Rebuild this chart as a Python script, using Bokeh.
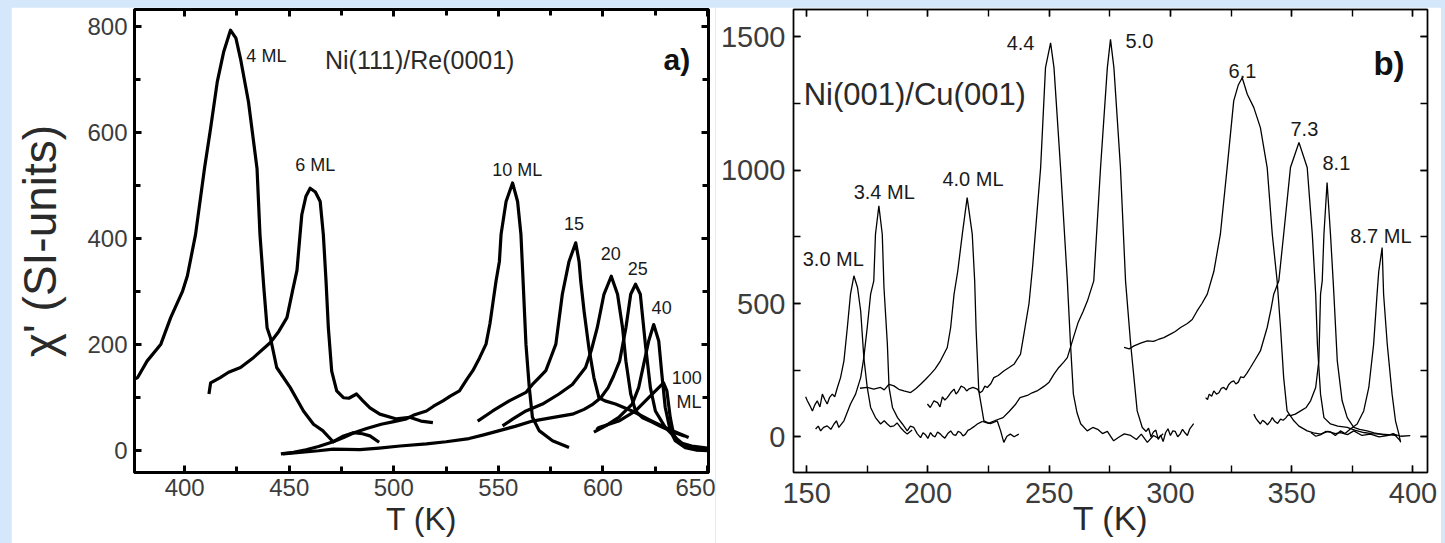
from bokeh.plotting import figure
from bokeh.models import LinearAxis, SingleIntervalTicker, Label, Spacer, ColumnDataSource, CustomJSTickFormatter
from bokeh.layouts import row, column
from bokeh.core.properties import value
from bokeh.embed import file_html
from bokeh.resources import INLINE

BLUE = "#D5E7FB"
FONT = "Liberation Sans"

# ---------------- panel a) Ni(111)/Re(0001) ----------------
a_4ML_T = [376, 377.5, 382, 388.6, 393.3, 398.9, 401.3, 405.2, 409.5, 412.4, 415.6, 418.7, 421.9, 424.5, 426.7, 430.5,
           434.6, 436, 437.8, 439.4, 441, 444, 450.5, 456.8, 461.6, 466, 471, 476, 480.6, 485, 488.6, 493]
a_4ML_chi = [135, 138, 169, 201, 251, 300, 330, 408, 533, 608, 696, 753, 793, 778, 739, 658,
             532, 408, 310, 232, 213, 157, 119, 75, 50, 38, 17, 28, 34, 32, 28, 16]

a_6ML_T = [411.6, 412.4, 417, 421, 426.7, 433, 441, 445, 448.9, 451.5, 453.7, 455, 456, 458, 460, 462.5,
           464.8, 466.3, 467.6, 468.7, 470.3, 472.7, 475.9, 478.5, 482.2, 485, 488.6, 493.3, 501.3, 507.6, 513, 518.7]
a_6ML_chi = [107, 128, 138, 148, 157, 176, 204, 225, 251, 300, 340, 400, 445, 480, 495, 488,
             470, 408, 320, 232, 150, 113, 100, 99, 107, 95, 81, 69, 60, 63, 56, 53]

a_10ML_T = [446, 452, 458, 464, 471, 476, 481, 487, 494, 500, 506, 510, 515.6, 519, 523.5, 527, 531.4, 535, 537.8,
            541, 544.1, 546, 547.3, 548.9, 550.5, 551.3, 553.7, 556.8, 559.2, 560.8, 561.6, 563.2, 564.8, 566.3,
            569.5, 575.9, 583.8]
a_10ML_chi = [-6, -3, 2, 8, 17, 25, 34, 42, 50, 55, 60, 68, 75, 84, 94, 103, 113, 135, 151,
              175, 201, 240, 276, 320, 357, 408, 470, 505, 470, 408, 340, 201, 119, 63,
              38, 19, 6]

a_15ML_T = [540.1, 547.3, 555.2, 563.2, 566.3, 569.5, 572.7, 575, 577.5, 580.6, 583.8, 587, 588.6, 589.4, 591,
            593.3, 595.7, 598.1, 601, 606, 614, 623.5, 633, 641]
a_15ML_chi = [56, 75, 94, 110, 125, 138, 151, 175, 201, 295, 357, 392, 357, 320, 263,
              194, 138, 100, 94, 88, 75, 56, 38, 25]

a_20ML_T = [552, 557, 563.2, 571.1, 579, 585.4, 591.7, 594.5, 597.3, 600.5, 604, 607, 609.4, 611, 613.3, 615.6,
            619, 623.5, 628, 633, 639]
a_20ML_chi = [47, 60, 75, 88, 107, 125, 157, 190, 232, 295, 329, 295, 232, 169, 107, 75,
              62, 54, 45, 36, 28]

a_25ML_T = [447, 455, 464, 471, 483.8, 493, 503, 515.6, 525, 536, 543, 550.5, 558, 566.3, 575, 585.4, 591, 595.3,
            599, 602.5, 605, 608, 611, 613.3, 615.6, 617.9, 620.3, 622.7, 625.1, 629.8, 634.6, 639.4, 645, 650]
a_25ML_chi = [-6, -3, 0, 3, 2, 5, 9, 13, 17, 23, 30, 38, 46, 56, 62, 69, 78, 88,
              100, 119, 140, 169, 232, 295, 314, 295, 201, 119, 75, 44, 25, 9, 2, 2]

a_40ML_T = [595.7, 601.3, 607.6, 614, 617.1, 619.5, 621.9, 624.3, 626.7, 628.2, 629.8, 632.2, 634.6, 639.4, 645, 650]
a_40ML_chi = [35, 47, 63, 88, 119, 163, 207, 238, 207, 144, 82, 38, 19, 6, 1, 0]

a_100ML_T = [597, 598.1, 607.6, 615.6, 621.9, 626.7, 629, 630.6, 632.2, 633.8, 636.2, 642.5, 650]
a_100ML_chi = [40, 44, 56, 75, 100, 119, 128, 113, 63, 31, 16, 9, 5]

a_label_text = ["4 ML", "6 ML", "10 ML", "15", "20", "25", "40", "100", "ML"]
a_label_T = [429.5, 452.9, 547.1, 581.4, 599, 611.9, 623.3, 632.9, 635.2]
a_label_chi = [744, 538, 529, 429, 372, 344, 270, 139, 92]

# ---------------- panel b) Ni(001)/Cu(001) ----------------
b_30_T = [149.6, 150.3, 151.3, 152.4, 153.4, 154.4, 155.5, 156.5, 157.5, 158.5, 159.5, 160.6, 161.6, 162.7, 164,
          165.4, 166.8, 168.1, 169.5, 171, 172.3, 173.6, 175, 176.4, 178.4, 180.5, 182, 183.3, 184.6, 186, 187.3,
          188.7, 190, 191.5, 193.5]
b_30_chi = [150, 135, 118, 97, 120, 135, 112, 160, 140, 123, 148, 160, 150, 185, 222,
            285, 410, 535, 604, 560, 472, 297, 185, 110, 72, 48, 60, 48, 38, 41, 52,
            35, 22, 10, 25]

b_34_T = [153.7, 154.8, 155.8, 157, 158.5, 160, 161.3, 162.3, 163.3, 165.4, 168.1, 170.2, 172.3, 173.6, 175, 176.4,
          177.7, 178.4, 179.8, 181.2, 181.9, 183.3, 184, 185.4, 187.5, 189.5, 191.5, 192.8, 194.2, 195.6, 197, 198,
          199, 200, 201.1, 202, 203, 204, 205.2, 206, 207, 208.2, 209.4, 210.5, 211.5, 212.5, 213.5, 214.5, 215.5,
          216.5, 217.6, 219, 220.4, 222.5]
b_34_chi = [29, 40, 22, 35, 41, 28, 48, 60, 35, 60, 123, 160, 222, 297, 410, 535,
            585, 760, 866, 760, 560, 348, 185, 110, 72, 48, 22, 40, 35, 12, -3, 15,
            8, -6, 16, 4, 0, 18, 10, 2, -5, 12, 22, 8, 5, 20, 16, 3, 10,
            24, 29, 38, 48, 58]

b_40_T = [172, 175, 177.7, 180.5, 182, 184, 186, 188, 190.1, 192.9, 195, 197, 199, 201.1, 203, 205.2, 208, 209.4,
          210.8, 212.3, 214.2, 216.2, 218.3, 219.3, 219.9, 221, 223.1, 225.8, 228.6, 230, 231.3, 232.6, 234, 235.6,
          237.5]
b_40_chi = [182, 185, 179, 185, 176, 197, 191, 178, 172, 166, 180, 197, 215, 235, 255, 285, 335, 410,
            535, 620, 760, 897, 760, 585, 400, 172, 60, 49, 60, 22, -21, 2, 10, 0, 10]

b_44_T = [199.8, 201, 202.5, 204, 205, 206, 207, 208, 209.4, 210.8, 211.6, 212.5, 213.7, 214.9, 216, 217, 218.6,
          220.4, 221.5, 222.5, 223.5, 224.5, 226, 227.2, 229, 231.3, 233.5, 235.5, 238.2, 239.6, 241.7, 243.2,
          246.5, 248.5, 250.6, 252, 254.7, 257.5, 258.8, 260, 261.5, 263, 265.7, 268, 270, 272, 274, 276.6, 279,
          281, 283.6, 286, 288, 290.5, 293, 295, 297]
b_44_chi = [123, 110, 135, 128, 112, 150, 138, 147, 165, 179, 160, 170, 190, 185, 172, 180, 185,
            179, 165, 172, 190, 185, 200, 222, 230, 247, 260, 272, 310, 385, 500, 640,
            1010, 1385, 1478, 1385, 1010, 585, 349, 160, 90, 49, 22, 35, 28, 12, 20, -15, 0,
            11, 5, -10, 10, -21, 5, -5, 11]

b_50_T = [222.5, 225, 228, 231, 233.5, 236, 238, 241, 243, 245, 248, 250, 252, 254, 256, 257.5, 260, 262, 264,
          265.8, 268.4, 271.2, 274, 275.3, 276.7, 279.4, 281.5, 283.6, 286.3, 288.4, 290, 291, 292, 293, 294, 295,
          296, 297, 298, 299, 300, 301, 302, 303, 304, 305, 306, 307, 308, 309.6]
b_50_chi = [58, 50, 62, 72, 95, 120, 147, 155, 165, 172, 190, 205, 235, 260, 280, 297, 372, 430, 470,
            510, 585, 1010, 1385, 1491, 1385, 1010, 585, 349, 97, 35, 20, 32, 0, 18, 25, -10, 6,
            -18, 15, 30, 5, 22, 20, 0, 10, 28, 15, 5, 30, 49]

b_61_T = [280.9, 283, 285, 288, 290.5, 293, 295, 297.3, 300, 302, 304.2, 307, 309, 311, 313, 315.2, 317.9, 320.6,
          323.4, 326.1, 328, 329.6, 331.7, 334.4, 337.1, 339.9, 342, 344, 345.4, 346.7, 348.1, 350.9, 353, 356.4,
          359, 361.9, 365, 368, 370.1, 373, 375.6, 379, 382.5, 386, 389.4, 392, 394.8]
b_61_chi = [335, 330, 341, 352, 360, 358, 365, 372, 385, 395, 410, 425, 440, 472, 500, 535, 620, 760,
            1010, 1260, 1320, 1347, 1285, 1235, 1160, 1010, 760, 585, 410, 222, 97, 60, 40, 22,
            15, 10, 20, 12, 16, 8, 22, 5, 10, 0, 4, 12, -15]

b_73_T = [314.5, 315.3, 316, 317, 317.9, 319, 320, 321, 322, 323, 324, 325, 326.1, 327, 328, 329, 330.2, 331.5, 333,
          335, 337.1, 339.9, 341.5, 342.6, 344.7, 346.7, 349.5, 353, 356.4, 358.5, 359.9, 360.6, 361.9, 363.3,
          366, 369, 372.9, 376, 379.7, 383, 386.6, 390, 393.5]
b_73_chi = [147, 140, 160, 152, 172, 160, 165, 182, 185, 176, 195, 205, 210, 198, 205, 225, 222, 238, 260,
            290, 322, 410, 480, 535, 585, 760, 1010, 1104, 1010, 760, 535, 348, 160, 72,
            48, 40, 35, 25, 16, 12, 10, 8, 4]

b_81_T = [334.4, 335.2, 336, 337.1, 338, 339, 340, 341.3, 342, 343, 344.2, 345.4, 346.5, 347.5, 348.5, 349.5, 351.5,
          353.7, 356, 357.8, 359.9, 361.2, 361.9, 362.6, 363.3, 364.6, 366, 367.1, 367.4, 368.8, 370.8, 372.9,
          375.6, 378, 381.1, 384, 386.6, 389, 392.1, 395, 398.9]
b_81_chi = [85, 70, 60, 48, 62, 55, 45, 60, 72, 58, 50, 66, 62, 70, 82, 79, 85,
            97, 110, 135, 185, 285, 535, 585, 760, 954, 760, 585, 535, 285, 135, 72,
            35, 28, 22, 15, 10, 5, 10, 2, 4]

b_87_T = [358, 360, 362, 364, 366, 368, 370.1, 372, 374.2, 377, 379.7, 381.8, 383.8, 385.2, 385.9, 387.3, 387.9,
          389.4, 391.4, 392.8, 394.2, 394.9]
b_87_chi = [15, 2, 8, 20, 18, 5, 22, 12, 29, 48, 97, 185, 348, 535, 620, 710, 535,
            348, 160, 60, 10, -21]

b_label_text = ["3.0 ML", "3.4 ML", "4.0 ML", "4.4", "5.0", "6.1", "7.3", "8.1", "8.7 ML"]
b_label_T = [148.4, 169.4, 206, 232.5, 281.5, 324, 349.5, 362.7, 374.2]
b_label_chi = [666, 919, 966, 1479, 1485, 1374, 1153, 1029, 754]

a_curves = [(a_4ML_T, a_4ML_chi), (a_6ML_T, a_6ML_chi), (a_10ML_T, a_10ML_chi), (a_15ML_T, a_15ML_chi),
            (a_20ML_T, a_20ML_chi), (a_25ML_T, a_25ML_chi), (a_40ML_T, a_40ML_chi), (a_100ML_T, a_100ML_chi)]
b_curves = [(b_30_T, b_30_chi), (b_34_T, b_34_chi), (b_40_T, b_40_chi), (b_44_T, b_44_chi), (b_50_T, b_50_chi),
            (b_61_T, b_61_chi), (b_73_T, b_73_chi), (b_81_T, b_81_chi), (b_87_T, b_87_chi)]


def setup_axes(p, xint, yint, lw, tick_len, minor_len, label_size, label_color):
    xt = SingleIntervalTicker(interval=xint, num_minor_ticks=2)
    yt = SingleIntervalTicker(interval=yint, num_minor_ticks=2)
    bottom = p.below[0]
    left = p.left[0]
    bottom.ticker = xt
    left.ticker = yt
    blank = CustomJSTickFormatter(code="return '';")
    top = LinearAxis(ticker=xt, formatter=blank)
    right = LinearAxis(ticker=yt, formatter=blank)
    p.add_layout(top, "above")
    p.add_layout(right, "right")
    for ax in [bottom, left, top, right]:
        ax.axis_line_color = "black"
        ax.axis_line_width = lw
        ax.major_tick_line_color = "black"
        ax.minor_tick_line_color = "black"
        ax.major_tick_line_width = lw
        ax.minor_tick_line_width = lw
        ax.major_tick_in = tick_len
        ax.major_tick_out = 0
        ax.minor_tick_in = minor_len
        ax.minor_tick_out = 0
        ax.major_label_text_font = FONT
        ax.major_label_text_font_size = label_size
        ax.major_label_text_color = label_color
        ax.axis_label_text_font = FONT
        ax.axis_label_text_font_style = "normal"
        ax.axis_label_text_color = "#2a2a2a"
    for ax in [top, right]:
        ax.major_label_standoff = 0
    p.xgrid.visible = False
    p.ygrid.visible = False
    return bottom, left


# ---------------- figure a ----------------
pa = figure(width=704, height=536, x_range=(376, 650.5), y_range=(-41, 832),
            output_backend="svg", toolbar_location=None,
            min_border_left=122, min_border_right=7, min_border_top=1, min_border_bottom=71,
            background_fill_color="white", border_fill_color="white",
            outline_line_color="black", outline_line_width=3)
a_bottom, a_left = setup_axes(pa, 50, 200, 3, 7, 6, "24px", "#3c3c3c")
a_bottom.major_label_standoff = 6
a_left.major_label_standoff = 7
a_bottom.axis_label = "T (K)"
a_bottom.axis_label_text_font_size = "32px"
a_bottom.axis_label_standoff = 2
a_left.axis_label = "χ' (SI-units)"
a_left.axis_label_text_font_size = "46px"
a_left.axis_label_standoff = 18

for T, chi in a_curves:
    pa.line(T, chi, line_color="black", line_width=3.2, line_join="round")

src_a = ColumnDataSource(dict(x=a_label_T, y=a_label_chi, t=a_label_text))
pa.text(x="x", y="y", text="t", source=src_a, text_font=value(FONT), text_font_size=value("18px"),
        text_baseline="middle", text_align="left", text_color="#1a1a1a")
pa.add_layout(Label(x=467.1, y=737, text="Ni(111)/Re(0001)", text_font=FONT, text_font_size="25px",
                    text_color="#2a2a2a", text_baseline="middle"))
pa.add_layout(Label(x=629, y=737, text="a)", text_font=FONT, text_font_size="30px", text_font_style="bold",
                    text_color="#111111", text_baseline="middle"))

# ---------------- figure b ----------------
pb = figure(width=726, height=536, x_range=(144.6, 406), y_range=(-134, 1603),
            output_backend="svg", toolbar_location=None,
            min_border_left=78, min_border_right=14, min_border_top=2, min_border_bottom=67,
            background_fill_color="white", border_fill_color="white",
            outline_line_color="#222222", outline_line_width=1.5)
b_bottom, b_left = setup_axes(pb, 50, 500, 1.4, 7, 7, "29px", "#3c3c3c")
b_bottom.major_label_standoff = 10
b_left.major_label_standoff = 8
b_bottom.axis_label = "T (K)"
b_bottom.axis_label_text_font_size = "34px"
b_bottom.axis_label_standoff = -7

for T, chi in b_curves:
    pb.line(T, chi, line_color="black", line_width=1.3)

src_b = ColumnDataSource(dict(x=b_label_T, y=b_label_chi, t=b_label_text))
pb.text(x="x", y="y", text="t", source=src_b, text_font=value(FONT), text_font_size=value("20px"),
        text_baseline="middle", text_align="left", text_color="#1a1a1a")
pb.add_layout(Label(x=148.8, y=1283, text="Ni(001)/Cu(001)", text_font=FONT, text_font_size="31px",
                    text_color="#2a2a2a", text_baseline="middle"))
pb.add_layout(Label(x=383.7, y=1402, text="b)", text_font=FONT, text_font_size="33px", text_font_style="bold",
                    text_color="#111111", text_baseline="middle"))

layout = column(
    Spacer(width=1445, height=7, styles={"background-color": BLUE}),
    row(Spacer(width=11, height=536, styles={"background-color": BLUE}), pa, pb,
        Spacer(width=4, height=536, styles={"background-color": BLUE})),
    styles={"background-color": BLUE},
)

open("out.html", "w").write(file_html(layout, INLINE))
